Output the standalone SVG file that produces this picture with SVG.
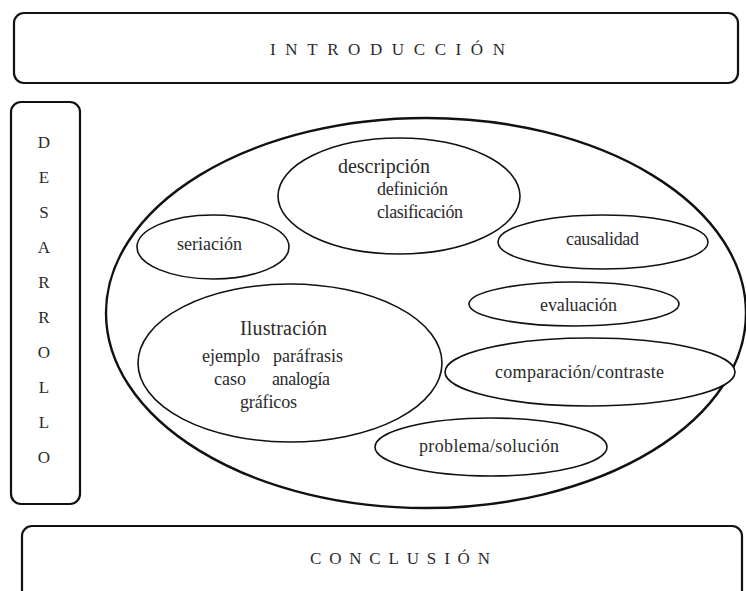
<svg xmlns="http://www.w3.org/2000/svg" width="746" height="591" viewBox="0 0 746 591">
  <style>
    .box { fill: #fff; stroke: #111; stroke-width: 2.2; }
    .big { fill: #fff; stroke: #111; stroke-width: 2.4; }
    .oval { fill: #fff; stroke: #111; stroke-width: 1.6; }
    text { font-family: "Liberation Serif", "Times New Roman", serif; fill: #2a2a2a; }
    .cap { font-size: 17px; }
    .lbl { font-size: 18px; }
    .head { font-size: 20px; }
  </style>
  <rect width="746" height="591" fill="#fff"/>

  <g id="introduccion">
    <rect class="box" x="14" y="13" width="724" height="70" rx="10"/>
    <text class="cap" x="270" y="55" textLength="235" lengthAdjust="spacing">INTRODUCCIÓN</text>
  </g>

  <g id="desarrollo">
    <rect class="box" x="11" y="102" width="69" height="402" rx="10"/>
    <g class="cap" text-anchor="middle">
      <text x="44" y="148">D</text>
      <text x="44" y="183">E</text>
      <text x="44" y="218">S</text>
      <text x="44" y="253">A</text>
      <text x="44" y="288">R</text>
      <text x="44" y="323">R</text>
      <text x="44" y="358">O</text>
      <text x="44" y="393">L</text>
      <text x="44" y="428">L</text>
      <text x="44" y="463">O</text>
    </g>
  </g>

  <g id="estructuras">
    <ellipse class="big" cx="426" cy="313" rx="320" ry="195"/>
  </g>

  <g id="descripcion">
    <ellipse class="oval" cx="399" cy="196" rx="121" ry="58"/>
    <text class="head" x="338" y="173" textLength="92" lengthAdjust="spacing">descripción</text>
    <text class="lbl" x="377" y="195" textLength="71" lengthAdjust="spacing">definición</text>
    <text class="lbl" x="377" y="218" textLength="86" lengthAdjust="spacing">clasificación</text>
  </g>

  <g id="seriacion">
    <ellipse class="oval" cx="213" cy="247" rx="76" ry="32"/>
    <text class="lbl" x="177" y="250" textLength="65" lengthAdjust="spacing">seriación</text>
  </g>

  <g id="causalidad">
    <ellipse class="oval" cx="603" cy="242" rx="105" ry="27"/>
    <text class="lbl" x="566" y="245" textLength="73" lengthAdjust="spacing">causalidad</text>
  </g>

  <g id="evaluacion">
    <ellipse class="oval" cx="574" cy="304" rx="105" ry="22"/>
    <text class="lbl" x="540" y="311" textLength="77" lengthAdjust="spacing">evaluación</text>
  </g>

  <g id="ilustracion">
    <ellipse class="oval" cx="290" cy="363" rx="152" ry="79"/>
    <text class="head" x="240" y="335" textLength="87" lengthAdjust="spacing">Ilustración</text>
    <text class="lbl" x="202" y="362" textLength="58" lengthAdjust="spacing">ejemplo</text>
    <text class="lbl" x="273" y="362" textLength="70" lengthAdjust="spacing">paráfrasis</text>
    <text class="lbl" x="214" y="385">caso</text>
    <text class="lbl" x="272" y="385" textLength="58" lengthAdjust="spacing">analogía</text>
    <text class="lbl" x="240" y="408" textLength="57" lengthAdjust="spacing">gráficos</text>
  </g>

  <g id="comparacion">
    <ellipse class="oval" cx="590" cy="372" rx="145" ry="34"/>
    <text class="lbl" x="495" y="378" textLength="169" lengthAdjust="spacing">comparación/contraste</text>
  </g>

  <g id="problema">
    <ellipse class="oval" cx="491" cy="447" rx="116" ry="29"/>
    <text class="lbl" x="419" y="452" textLength="140" lengthAdjust="spacing">problema/solución</text>
  </g>

  <g id="conclusion">
    <rect class="box" x="22" y="526" width="720" height="80" rx="10"/>
    <text class="cap" x="310" y="564" textLength="180" lengthAdjust="spacing">CONCLUSIÓN</text>
  </g>

  <g id="connectors"></g>
</svg>
